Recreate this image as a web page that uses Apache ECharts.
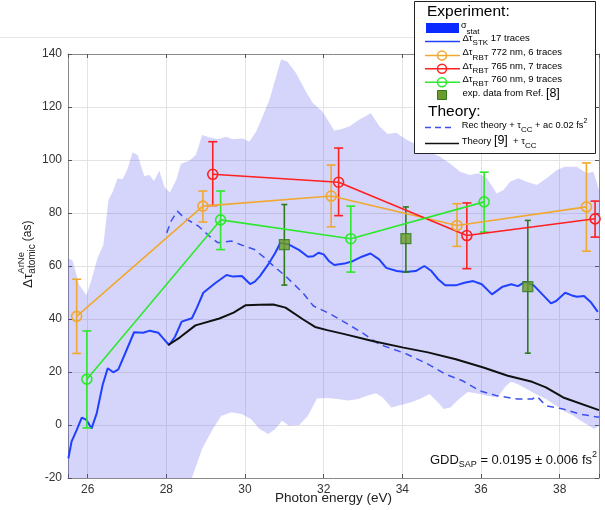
<!DOCTYPE html>
<html><head><meta charset="utf-8">
<script src="https://cdn.jsdelivr.net/npm/echarts@6/dist/echarts.min.js"></script>
<style>html,body{margin:0;padding:0;background:#fff}#c{width:605px;height:510px}</style>
</head><body><div id="c"></div>
<script>
// ---------- data ----------
const xTickLabels = [26, 28, 30, 32, 34, 36, 38];
const yTickLabels = [-20, 0, 20, 40, 60, 80, 100, 120, 140];

// sigma_stat band (upper / lower boundary)
const bandUpX = [25.5,25.62,25.78,25.97,26.1,26.25,26.4,26.53,26.64,26.76,26.89,27.02,27.14,27.27,27.44,27.57,27.69,27.82,27.95,28.09,28.25,28.37,28.58,28.75,28.91,29.09,29.31,29.52,29.69,29.94,30.11,30.28,30.41,30.62,30.79,30.92,31.08,31.3,31.55,31.72,31.97,32.27,32.44,32.65,32.91,33.2,33.42,33.63,33.84,34.09,34.4,34.7,34.96,35.21,35.47,35.72,35.93,36.15,36.4,36.57,36.74,36.95,37.16,37.42,37.67,37.93,38.14,38.43,38.69,38.86,39.0];
const bandUpY = [63,62,53,49,55,63,68,85,88.1,93.1,92.7,96.9,102.8,101.9,94.0,94.3,92.1,96.0,89.9,87.7,92.5,98.5,99.7,101.9,109.4,108.6,107.8,108.8,107.8,108.1,106.9,110.7,115.1,122.6,131.4,138.0,137.1,132.7,125.8,121.6,118.2,111.1,111.6,112.6,115.3,117.6,112.6,109.8,110.3,107.8,105.5,103,101.2,98.7,95.6,94.3,95,93.1,87.4,88.7,91.8,93.1,91.8,90.6,93.1,96.2,97.5,97.5,95.0,95.6,88.7];
const bandLoX = [25.5,28.65,28.91,29.03,29.18,29.4,29.66,29.93,30.15,30.37,30.59,30.77,30.94,31.12,31.38,31.6,31.83,32.09,32.35,32.62,32.88,33.1,33.33,33.5,33.72,33.94,34.21,34.47,34.69,34.91,35.05,35.22,35.44,35.66,35.88,36.15,36.41,36.64,36.77,36.94,37.16,37.39,37.65,37.91,38.17,38.35,38.53,38.75,38.88,39.0];
const bandLoY = [-20,-20,-9,-5.7,-1.5,3.5,4.8,4.1,2.3,-1.5,-3.4,-1.5,1.6,-0.3,0,3.5,10.0,10.2,9.8,9.2,9.8,11.0,12.0,10.4,6.6,7.5,8.5,10.0,11.7,8.5,6.0,6.6,9.8,12.5,12.0,11.0,10.4,14.8,16.3,15.4,13.6,11.7,9.8,7.3,4.8,3.5,1.6,-0.3,-1.5,-0.3];

// Delta tau STK, 17 traces
const stkX = [25.51,25.59,25.72,25.85,25.97,26.1,26.23,26.38,26.51,26.65,26.78,26.99,27.18,27.41,27.58,27.8,27.92,28.07,28.22,28.39,28.65,28.77,28.94,29.24,29.53,29.7,29.92,30.13,30.25,30.38,30.59,30.77,30.9,31.12,31.38,31.6,31.74,31.87,32.0,32.13,32.27,32.53,32.75,32.97,33.19,33.41,33.59,33.86,34.08,34.34,34.56,34.74,34.91,35.09,35.36,35.58,35.8,36.02,36.28,36.55,36.77,36.94,37.12,37.34,37.56,37.78,37.91,38.14,38.31,38.44,38.62,38.8,38.97];
const stkY = [-12.6,-6.3,-1.9,2.8,1.9,-1.3,4.4,15.1,21.4,19.9,21.0,28.3,35.0,34.8,35.6,34.8,32.7,30.2,33.3,39.0,40.3,44.0,49.9,53.5,56.6,56.0,56.2,53.2,54.1,56.2,60.6,65.0,68.8,68.1,66.0,63.5,63.7,65.0,64.4,61.9,60.4,60.9,61.9,63.5,64.7,62.5,59.3,58.1,57.7,58.1,60.0,58.1,55.0,52.7,52.7,53.7,54.3,53.1,49.3,52.2,53.1,52.4,54.0,52.7,49.3,45.9,46.8,49.9,48.9,48.4,48.7,46.2,42.7];

// Rec theory + tau_CC + ac 0.02 fs^2 (dashed)
const recX = [28.01,28.12,28.28,28.45,28.65,28.82,29.09,29.31,29.66,29.88,30.24,30.5,30.68,31.03,31.47,31.74,32.18,32.62,32.97,33.41,33.77,34.12,34.65,35.09,35.53,35.97,36.41,36.94,37.3,37.43,37.65,38.09,38.53,39.0];
const recY = [72.5,76.9,80.7,78.2,76.5,75.0,71.3,68.8,69.4,68.1,66.2,63.1,60.6,56.2,49.9,44.9,41.8,38.0,34.9,30.5,28.6,26.7,23.0,19.2,16.7,12.9,11.0,9.8,9.8,10.7,7.3,6.0,4.1,2.9];

// Theory [9] + tau_CC (black)
const thX = [28.05,28.34,28.74,29.35,29.71,30.02,30.37,30.72,31.03,31.47,31.78,32.09,32.53,33.24,34.03,34.65,35.36,36.06,36.68,37.3,37.65,38.09,39.0];
const thY = [30.2,33.0,37.6,40.2,42.4,45.2,45.4,45.5,44.3,39.9,37.0,35.8,34.3,31.7,29.2,27.4,24.8,21.7,18.6,16.3,14.2,10.4,5.6];

// RBT 772 nm, 6 traces
const orX = [25.72,28.93,32.19,35.39,38.68];
const orY = [41,82.6,86.4,75.3,82.3];
const orLo = [27,76.6,74.8,67.4,65.6];
const orHi = [55,88.3,98.1,83.5,98.9];
// RBT 765 nm, 7 traces
const rdX = [29.18,32.38,35.64,38.9];
const rdY = [94.6,91.6,71.5,77.8];
const rdLo = [82.8,79.0,59.0,70.9];
const rdHi = [106.9,104.5,83.8,84.5];
// RBT 760 nm, 9 traces
const gnX = [25.98,29.38,32.69,36.08];
const gnY = [17.3,77.4,70.3,84.2];
const gnLo = [-1.1,66.2,57.7,72.8];
const gnHi = [35.5,88.3,82.6,95.4];
// exp. data from Ref. [8]
const exX = [31.0,34.09,37.19];
const exY = [68.1,70.3,52.2];
const exLo = [52.8,57.7,27.1];
const exHi = [83.2,82.3,77.2];

// ---------- styles ----------
const FF = "'Liberation Sans', Arial, Helvetica, sans-serif";
const C_BAND = 'rgba(88,88,240,0.25)';
const C_STK = '#2040ff';
const C_REC = '#3c50f0';
const C_TH = '#111111';
const C_OR = '#f0a830';
const C_RD = '#ff2020';
const C_GN = '#2de82d';
const C_EXF = '#6b9b2b';
const C_EXB = '#2e7a1c';

const zip = (xs, ys) => xs.map((x, i) => [x, ys[i]]);

const mctx = document.createElement('canvas').getContext('2d');
function tw(t, s) { mctx.font = s + 'px ' + FF; return mctx.measureText(t).width; }
function row(x, y, parts, color) {
  const els = []; let cx = x;
  parts.forEach(p => {
    els.push({type: 'text', x: cx, y: y + (p.dy || 0), z: 102,
      style: {text: p.t, fontSize: p.s, fontFamily: FF, fill: color || '#000', align: 'left', verticalAlign: 'middle'}});
    cx += tw(p.t, p.s) + (p.gap || 0);
  });
  return els;
}
function rowWidth(parts) { return parts.reduce((a, p) => a + tw(p.t, p.s) + (p.gap || 0), 0); }

function errSeries(xs, lo, hi, color, cap, lw) {
  return {
    type: 'custom', xAxisIndex: 0, yAxisIndex: 0, z: 4, silent: true,
    data: xs.map((x, i) => [x, lo[i], hi[i]]),
    encode: {x: 0, y: [1, 2]},
    renderItem: (params, api) => {
      const x = api.value(0);
      const p1 = api.coord([x, api.value(1)]);
      const p2 = api.coord([x, api.value(2)]);
      const st = {stroke: color, lineWidth: lw};
      return {type: 'group', children: [
        {type: 'line', shape: {x1: p1[0], y1: p1[1], x2: p2[0], y2: p2[1]}, style: st},
        {type: 'line', shape: {x1: p1[0] - cap / 2, y1: p1[1], x2: p1[0] + cap / 2, y2: p1[1]}, style: st},
        {type: 'line', shape: {x1: p2[0] - cap / 2, y1: p2[1], x2: p2[0] + cap / 2, y2: p2[1]}, style: st}
      ]};
    }
  };
}
function ptSeries(xs, ys, color) {
  return {
    type: 'line', data: zip(xs, ys), z: 5, silent: true,
    symbol: 'circle', symbolSize: 10, showSymbol: true,
    lineStyle: {color: color, width: 1.6},
    itemStyle: {color: 'rgba(0,0,0,0)', borderColor: color, borderWidth: 1.6}
  };
}

// ---------- graphic (legend & annotations) ----------
const g = [];
g.push({type: 'line', shape: {x1: 0, y1: 37.5, x2: 414, y2: 37.5}, style: {stroke: '#e6e6e6', lineWidth: 1}, z: 90});
g.push({type: 'rect', shape: {x: 414.5, y: 1.5, width: 181, height: 152}, style: {fill: '#fff', stroke: '#222', lineWidth: 1}, z: 100});
g.push(...row(427, 12, [{t: 'Experiment:', s: 15.5}]));
g.push({type: 'rect', shape: {x: 426, y: 23, width: 33, height: 10}, style: {fill: '#0a2aff'}, z: 101});
g.push(...row(461, 25.5, [{t: 'σ', s: 9}, {t: 'stat', s: 8, dy: 6}]));
g.push({type: 'line', shape: {x1: 425, y1: 41.5, x2: 460, y2: 41.5}, style: {stroke: C_STK, lineWidth: 1.5}, z: 101});
g.push(...row(462.5, 38.5, [{t: 'Δτ', s: 9.5}, {t: 'STK', s: 8, dy: 4.5}, {t: ' 17 traces', s: 9.5}]));
const rbtRows = [[55.5, C_OR, ' 772 nm, 6 traces'], [68.8, C_RD, ' 765 nm, 7 traces'], [82.2, C_GN, ' 760 nm, 9 traces']];
rbtRows.forEach(r => {
  g.push({type: 'line', shape: {x1: 425, y1: r[0], x2: 460, y2: r[0]}, style: {stroke: r[1], lineWidth: 1.5}, z: 101});
  g.push({type: 'circle', shape: {cx: 442, cy: r[0], r: 4.5}, style: {fill: 'none', stroke: r[1], lineWidth: 1.5}, z: 101});
  g.push(...row(462.5, r[0] - 2.7, [{t: 'Δτ', s: 9.5}, {t: 'RBT', s: 8, dy: 4.5}, {t: r[2], s: 9.5}]));
});
g.push({type: 'rect', shape: {x: 437.5, y: 90.5, width: 9, height: 9}, style: {fill: C_EXF, stroke: C_EXB, lineWidth: 1}, z: 101});
g.push(...row(462.5, 93.5, [{t: 'exp. data from Ref. ', s: 9.5}, {t: '[8]', s: 12.5}]));
g.push(...row(428, 111.5, [{t: 'Theory:', s: 15.5}]));
g.push({type: 'line', shape: {x1: 425, y1: 127.5, x2: 454, y2: 127.5}, style: {stroke: C_REC, lineWidth: 1.5, lineDash: [6, 4]}, z: 101});
g.push(...row(461.7, 125.5, [{t: 'Rec theory + τ', s: 9.3}, {t: 'CC', s: 8, dy: 4.5}, {t: ' + ac 0.02 fs', s: 9.3}, {t: '2', s: 7, dy: -4}]));
g.push({type: 'line', shape: {x1: 425, y1: 143.5, x2: 459, y2: 143.5}, style: {stroke: C_TH, lineWidth: 1.5}, z: 101});
g.push(...row(461.7, 141, [{t: 'Theory ', s: 9.5}, {t: '[9]', s: 12.5}, {t: '  + τ', s: 9.5}, {t: 'CC', s: 8, dy: 4.5}]));

// GDD annotation
const gddParts = [{t: 'GDD', s: 13}, {t: 'SAP', s: 9, dy: 5}, {t: ' = 0.0195 ± 0.006 fs', s: 13}, {t: '2', s: 9, dy: -5}];
g.push(...row(597 - rowWidth(gddParts), 460, gddParts, '#111'));

// x axis name
const xName = 'Photon energy (eV)';
g.push(...row(333.5 - tw(xName, 13.5) / 2, 498, [{t: xName, s: 13.5}], '#222'));

// y axis name (rotated)
(function () {
  const w1 = tw('Δτ', 13.5), wsub = tw('atomic', 10), wsup = tw('ArNe', 9.5);
  const ch = [];
  ch.push({type: 'text', x: 0, y: 0, style: {text: 'Δτ', fontSize: 13.5, fontFamily: FF, fill: '#222', align: 'left', verticalAlign: 'middle'}});
  ch.push({type: 'text', x: w1, y: -7, style: {text: 'ArNe', fontSize: 9.5, fontFamily: FF, fill: '#222', align: 'left', verticalAlign: 'middle'}});
  ch.push({type: 'text', x: w1, y: 4, style: {text: 'atomic', fontSize: 10, fontFamily: FF, fill: '#222', align: 'left', verticalAlign: 'middle'}});
  ch.push({type: 'text', x: w1 + Math.max(wsub, wsup) + 3, y: 0, style: {text: '(as)', fontSize: 12, fontFamily: FF, fill: '#222', align: 'left', verticalAlign: 'middle'}});
  g.push({type: 'group', x: 28, y: 288, rotation: Math.PI / 2, children: ch, z: 102});
})();

// ---------- chart ----------
const chart = echarts.init(document.getElementById('c'), null, {renderer: 'canvas'});
const axisCommon = {
  axisLine: {show: true, onZero: false, lineStyle: {color: '#888', width: 1}},
  axisTick: {show: true, inside: true, length: 4, lineStyle: {color: '#555'}},
};
chart.setOption({
  animation: false,
  backgroundColor: '#fff',
  grid: {left: 68, right: 6, top: 54, bottom: 32, containLabel: false, outerBoundsMode: 'none'},
  xAxis: [
    Object.assign({type: 'value', min: 25.5, max: 39, splitNumber: 7, position: 'bottom',
      axisLabel: {margin: 6, color: '#333', fontSize: 12, fontFamily: FF,
        formatter: v => (xTickLabels.indexOf(Math.round(v * 1000) / 1000) >= 0 ? String(v) : '')},
      splitLine: {show: true, lineStyle: {color: '#e3e3e3', width: 1}}}, axisCommon),
    Object.assign({type: 'value', min: 25.5, max: 39, splitNumber: 7, position: 'top',
      axisLabel: {show: false}, splitLine: {show: false}}, axisCommon)
  ],
  yAxis: [
    Object.assign({type: 'value', min: yTickLabels[0], max: yTickLabels[yTickLabels.length - 1], interval: 20, position: 'left',
      axisLabel: {margin: 6, color: '#333', fontSize: 12, fontFamily: FF},
      splitLine: {show: true, lineStyle: {color: '#e3e3e3', width: 1}}}, axisCommon),
    Object.assign({type: 'value', min: yTickLabels[0], max: yTickLabels[yTickLabels.length - 1], interval: 20, position: 'right',
      axisLabel: {show: false}, splitLine: {show: false}}, axisCommon)
  ],
  graphic: {elements: g},
  series: [
    { // sigma_stat band
      type: 'custom', silent: true, z: 1, clip: true,
      data: [[bandUpX[0], bandUpY[0]]],
      renderItem: (params, api) => {
        const pts = [];
        for (let i = 0; i < bandUpX.length; i++) pts.push(api.coord([bandUpX[i], bandUpY[i]]));
        for (let i = bandLoX.length - 1; i >= 0; i--) pts.push(api.coord([bandLoX[i], bandLoY[i]]));
        return {type: 'polygon', shape: {points: pts}, style: {fill: C_BAND}};
      }
    },
    {type: 'line', data: zip(stkX, stkY), showSymbol: false, z: 3, silent: true, lineStyle: {color: C_STK, width: 2}},
    {type: 'line', data: zip(recX, recY), showSymbol: false, z: 3, silent: true, lineStyle: {color: C_REC, width: 1.5, type: [7, 5]}},
    {type: 'line', data: zip(thX, thY), showSymbol: false, z: 3, silent: true, lineStyle: {color: C_TH, width: 2}},
    errSeries(orX, orLo, orHi, C_OR, 9, 1.6),
    ptSeries(orX, orY, C_OR),
    errSeries(rdX, rdLo, rdHi, C_RD, 9, 1.6),
    ptSeries(rdX, rdY, C_RD),
    errSeries(gnX, gnLo, gnHi, C_GN, 9, 1.6),
    ptSeries(gnX, gnY, C_GN),
    errSeries(exX, exLo, exHi, C_EXB, 6, 1.6),
    {type: 'scatter', data: zip(exX, exY), z: 6, silent: true, symbol: 'rect', symbolSize: 10,
      itemStyle: {color: C_EXF, borderColor: C_EXB, borderWidth: 1.2}}
  ]
});
</script></body></html>
